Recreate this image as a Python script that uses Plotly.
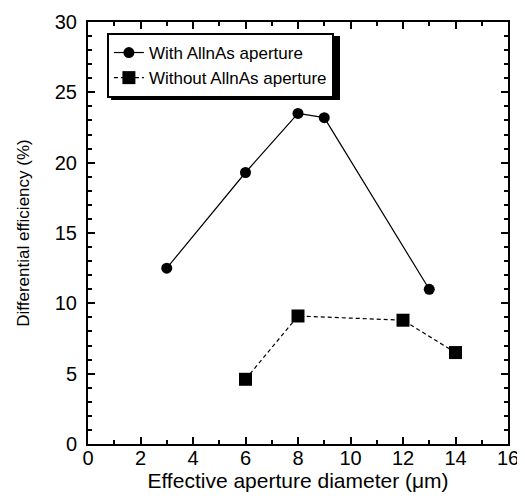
import plotly.graph_objects as go

with_x = [3, 6, 8, 9, 13]
with_y = [12.5, 19.3, 23.5, 23.2, 11.0]
without_x = [6, 8, 12, 14]
without_y = [4.6, 9.1, 8.8, 6.5]

x_ticks = [0, 2, 4, 6, 8, 10, 12, 14, 16]
y_ticks = [0, 5, 10, 15, 20, 25, 30]

FONT = "Liberation Sans, Arial, sans-serif"

fig = go.Figure()
fig.add_trace(go.Scatter(
    x=with_x, y=with_y, mode="lines+markers", name="With AllnAs aperture",
    line=dict(color="black", width=1.2),
    marker=dict(symbol="circle", size=11, color="black"),
))
fig.add_trace(go.Scatter(
    x=without_x, y=without_y, mode="lines+markers", name="Without AllnAs aperture",
    line=dict(color="black", width=1.2, dash="4px,3px"),
    marker=dict(symbol="square", size=13, color="black"),
))

axis_common = dict(
    showline=True, linecolor="black", linewidth=2, mirror="ticks",
    ticks="inside", ticklen=7, tickwidth=2, tickcolor="black",
    showgrid=False, zeroline=False, automargin=False,
    tickfont=dict(family=FONT, size=20, color="black"),
)

fig.update_xaxes(
    range=[0, 16], tickvals=x_ticks, title_text="Effective aperture diameter (μm)",
    title_font=dict(family=FONT, size=21, color="black"),
    title_standoff=3, ticklabelstandoff=-5,
    minor=dict(ticks="inside", ticklen=4, tickwidth=1.5, tickcolor="black", dtick=1, tick0=0, showgrid=False),
    **axis_common,
)
fig.update_yaxes(
    range=[0, 30], tickvals=y_ticks, title_text="Differential efficiency (%)",
    title_font=dict(family=FONT, size=17, color="black"),
    title_standoff=21, ticklabelstandoff=5,
    minor=dict(ticks="inside", ticklen=4, tickwidth=1.5, tickcolor="black", dtick=1, tick0=0, showgrid=False),
    **axis_common,
)

# drop shadow behind the legend box
fig.add_shape(type="rect", xref="paper", yref="paper",
              x0=0.055, x1=0.600, y0=0.815, y1=0.967,
              fillcolor="black", line=dict(width=0), layer="below")

fig.update_layout(
    width=517, height=496,
    margin=dict(l=80, r=17, t=14, b=60),
    plot_bgcolor="white", paper_bgcolor="white",
    showlegend=True,
    legend=dict(
        x=0.045, y=0.974, xanchor="left", yanchor="top",
        bgcolor="white", bordercolor="black", borderwidth=2,
        font=dict(family=FONT, size=17, color="black"),
        tracegroupgap=0, itemwidth=30,
    ),
    font=dict(family=FONT, color="black"),
)

fig.write_html("out.html")
